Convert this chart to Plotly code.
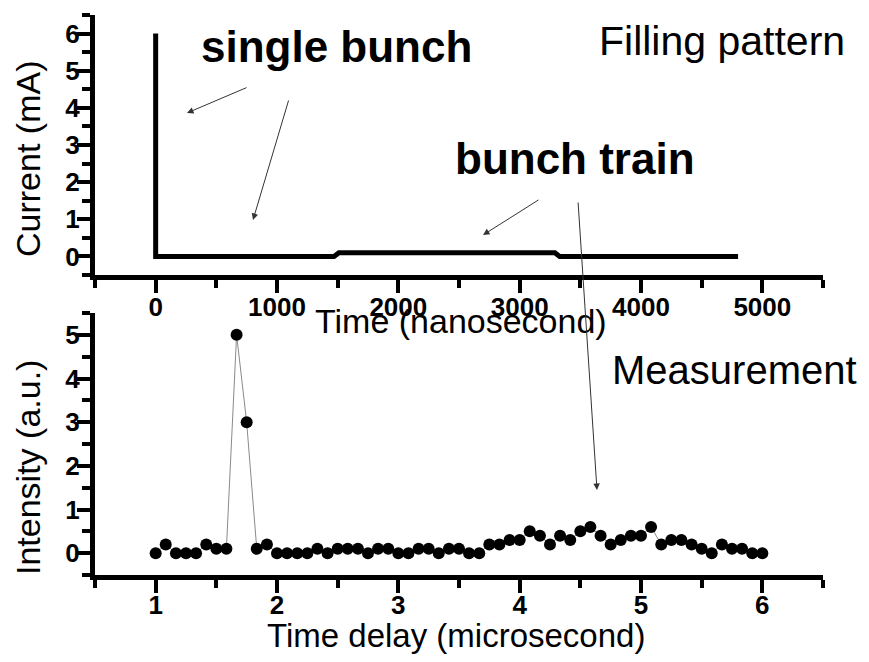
import plotly.graph_objects as go

# ---------------- data ----------------
fill_time_ns = [0, 0, 1470, 1510, 3290, 3330, 4800]
fill_current_mA = [6, 0, 0, 0.1, 0.1, 0, 0]

delay_us = [1.000, 1.083, 1.167, 1.250, 1.333, 1.417, 1.500, 1.583, 1.667, 1.750,
            1.833, 1.917, 2.000, 2.083, 2.167, 2.250, 2.333, 2.417, 2.500, 2.583,
            2.667, 2.750, 2.833, 2.917, 3.000, 3.083, 3.167, 3.250, 3.333, 3.417,
            3.500, 3.583, 3.667, 3.750, 3.833, 3.917, 4.000, 4.083, 4.167, 4.250,
            4.333, 4.417, 4.500, 4.583, 4.667, 4.750, 4.833, 4.917, 5.000, 5.083,
            5.167, 5.250, 5.333, 5.417, 5.500, 5.583, 5.667, 5.750, 5.833, 5.917,
            6.000]
intensity = [0, 0.2, 0, 0, 0, 0.2, 0.1, 0.1, 5, 3,
             0.1, 0.2, 0, 0, 0, 0, 0.1, 0, 0.1, 0.1,
             0.1, 0, 0.1, 0.1, 0, 0, 0.1, 0.1, 0, 0.1,
             0.1, 0, 0, 0.2, 0.2, 0.3, 0.3, 0.5, 0.4, 0.2,
             0.4, 0.3, 0.5, 0.6, 0.4, 0.2, 0.3, 0.4, 0.4, 0.6,
             0.2, 0.3, 0.3, 0.2, 0.1, 0, 0.2, 0.1, 0.1, 0,
             0]

top_xticks = [0, 1000, 2000, 3000, 4000, 5000]
top_yticks = [0, 1, 2, 3, 4, 5, 6]
bot_xticks = [1, 2, 3, 4, 5, 6]
bot_yticks = [0, 1, 2, 3, 4, 5]

# ---------------- layout geometry ----------------
W, H = 869, 662
ML, MR, MT, MB = 95, 46, 15, 87
PW, PH = W - ML - MR, H - MT - MB


def px(x):
    return (x - ML) / PW


def py(y):
    return (H - MB - y) / PH


FONT = "Liberation Sans, Arial, sans-serif"

fig = go.Figure()
fig.add_trace(go.Scatter(x=fill_time_ns, y=fill_current_mA, mode="lines",
                         line=dict(color="black", width=5), xaxis="x", yaxis="y",
                         showlegend=False, hoverinfo="skip"))
fig.add_trace(go.Scatter(x=delay_us, y=intensity, mode="lines+markers",
                         line=dict(color="#8a8a8a", width=1),
                         marker=dict(color="black", size=12),
                         xaxis="x2", yaxis="y2", showlegend=False))

axis_common = dict(showline=True, linecolor="black", linewidth=5,
                   ticks="outside", ticklen=13, tickwidth=4, tickcolor="black",
                   showgrid=False, zeroline=False, automargin=False,
                   tickfont=dict(family=FONT, size=26, color="black", weight="bold"))


def minor(d):
    return dict(ticks="outside", dtick=d, ticklen=8, tickwidth=4, tickcolor="black")


fig.update_layout(
    width=W, height=H,
    margin=dict(l=ML, r=MR, t=MT, b=MB, autoexpand=False),
    paper_bgcolor="white", plot_bgcolor="white",
    font=dict(family=FONT, color="black"),
    xaxis=dict(domain=[0, 1], anchor="y", range=[-500, 5500],
               tickvals=top_xticks, minor=minor(500), ticklabelstandoff=-8,
               **axis_common),
    yaxis=dict(domain=[py(275), 1], anchor="x", range=[-0.5, 6.5],
               tickvals=top_yticks, minor=minor(0.5), ticklabelstandoff=-8,
               **axis_common),
    xaxis2=dict(domain=[0, 1], anchor="y2", range=[0.5, 6.5],
                tickvals=bot_xticks, minor=minor(0.5), ticklabelstandoff=-10,
                **axis_common),
    yaxis2=dict(domain=[0, py(313)], anchor="x2", range=[-0.5, 5.5],
                tickvals=bot_yticks, minor=minor(0.5), ticklabelstandoff=-8,
                **axis_common),
)

# text labels (axis titles and in-plot labels)
texts = [
    ("single bunch", 336, 46, 44, "bold", 0),
    ("bunch train", 575, 158, 44, "bold", 0),
    ("Filling pattern", 722, 41, 41, "normal", 0),
    ("Measurement", 734, 370, 40, "normal", 0),
    ("Time (nanosecond)", 461, 321, 34, "normal", 0),
    ("Time delay (microsecond)", 456, 635, 33, "normal", 0),
    ("Current (mA)", 28, 159, 34, "normal", -90),
    ("Intensity (a.u.)", 28, 468, 34, "normal", -90),
]
for t, x, y, s, w, ang in texts:
    fig.add_annotation(text=t, x=px(x), y=py(y), xref="paper", yref="paper",
                       xanchor="center", yanchor="middle", showarrow=False,
                       textangle=ang,
                       font=dict(family=FONT, size=s, color="black", weight=w))

# arrows (head position in pixels, tail offset in pixels)
arrows = [
    (187, 113, 61, -26),
    (253, 220, 36, -121),
    (483, 235, 57, -36),
    (597, 490, -19, -289),
]
for hx, hy, ax, ay in arrows:
    fig.add_annotation(text="", x=px(hx), y=py(hy), xref="paper", yref="paper",
                       ax=ax, ay=ay, axref="pixel", ayref="pixel",
                       showarrow=True, arrowhead=2, arrowsize=1.3,
                       arrowwidth=1, arrowcolor="#333333")

fig.write_html("out.html",
               config={"displayModeBar": False},
               post_script="document.body.style.margin='0';"
                           "document.body.style.overflow='hidden';")
